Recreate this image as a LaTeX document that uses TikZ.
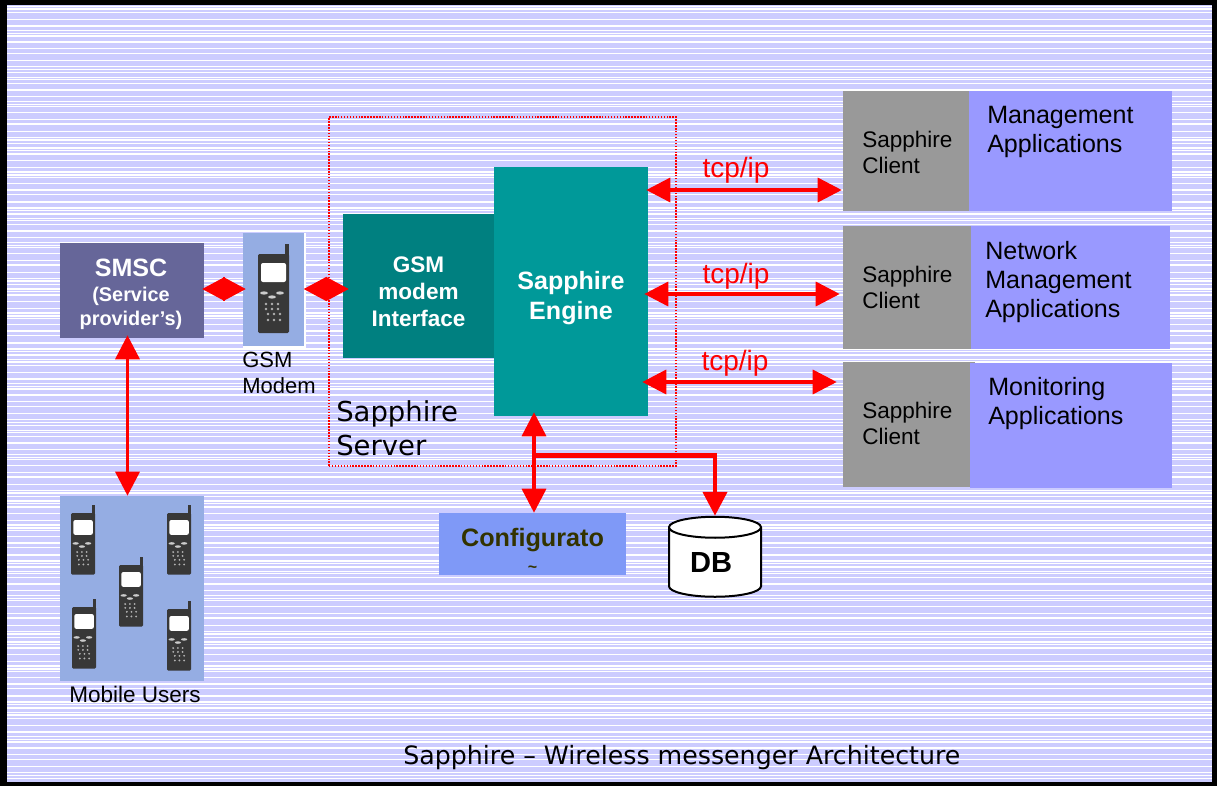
\documentclass[tikz,border=0pt]{standalone}
\usepackage{fontspec}
\usetikzlibrary{arrows.meta, shapes.geometric}
\setmainfont{Liberation Sans}
\newfontfamily\verdanafont{DejaVu Sans}

\definecolor{backblue}{HTML}{CCCCFF}
\definecolor{smscblue}{HTML}{666699}
\definecolor{phoneblue}{HTML}{95ADE3}
\definecolor{modemteal}{HTML}{008080}
\definecolor{engineteal}{HTML}{009999}
\definecolor{clientgray}{HTML}{999999}
\definecolor{appblue}{HTML}{9999FF}
\definecolor{configblue}{HTML}{7F99F7}
\definecolor{configtext}{HTML}{333300}

\tikzset{
    box/.style 2 args={inner sep=0pt, minimum width=#1*0.75pt, minimum height=#2*0.75pt},
    txt/.style 2 args={inner sep=0pt, align=left, anchor=west, font=\fontsize{#1}{#2}\selectfont},
    serif/.style 2 args={inner sep=0pt, align=left, anchor=west, font=\verdanafont\fontsize{#1}{#2}\selectfont},
    boldtxt/.style 2 args={inner sep=0pt, align=center, text=white, font=\fontsize{#1}{#2}\selectfont\bfseries},
    tcplabel/.style={text=red, font=\fontsize{21}{24}\selectfont},
    redarrow/.style={draw=red, line width=2.6pt,
        {Triangle[width=18pt,length=18pt]}-{Triangle[width=18pt,length=18pt]}},
    diamondarrow/.style={draw=red, line width=1pt,
        {Triangle[width=18pt,length=17pt]}-{Triangle[width=18pt,length=17pt]}},
    phone/.pic={
        \fill[black!78] (27,-10) rectangle (31,2);
        \fill[black!78, rounded corners=1pt] (0,0) rectangle (31,79);
        \fill[white, rounded corners=1.5pt] (3,9) rectangle (28,28);
        \foreach \kx/\ky in {6/39, 14/43, 22/39}
            \fill[black!20] (\kx,\ky) ellipse (4 and 1.6);
        \foreach \ky/\kshift in {50/0, 55/0, 60/2, 66/2}
            \foreach \kx in {8,14,20}
                \fill[black!30] (\kx+\kshift,\ky) circle (1.3);
    }
}

\begin{document}
\begin{tikzpicture}[x=0.75pt, y=-0.75pt]
        \useasboundingbox (0,0) rectangle (1217,786);

        % Frame and striped background
        \fill[black] (0,0) rectangle (1217,786);
        \fill[backblue] (7,5) rectangle (1212,782);
        \begin{scope}
            \clip (7,5) rectangle (1212,782);
            \foreach \k in {0,...,10}
                \foreach \o in {0,2.3,6,12.6,19.3,24,27,29.3,35.3,42,46.6,54,60,62.6,66}
                    \draw[white, line width=1pt] (7,6.7+\k*70.6+\o) -- (1212,6.7+\k*70.6+\o);
        \end{scope}

        % Sapphire server outline
        \node (server) at (502.5,291.5) [box={347}{349}, draw=red, line width=0.8pt, dash pattern=on 1.1pt off 1.1pt] {};
        \node (servertext) at (336,428) [serif={20.6}{25.5}] {Sapphire\\Server};

        % SMSC and mobile users
        \node (smsc) at (132,290.5) [box={144}{95}, fill=smscblue] {};
        \node (smsctext) at (131,268) [boldtxt={18.8}{20}] {SMSC};
        \node (smscsub) at (131,308.5) [boldtxt={14.9}{18}] {(Service\\provider’s)};
        \node (mobile) at (132,588.5) [box={144}{185}, fill=phoneblue] {};
        \pic[scale=0.78] at (71,513) {phone};
        \pic[scale=0.78] at (167,513) {phone};
        \pic[scale=0.78] at (119,565) {phone};
        \pic[scale=0.78] at (72,607) {phone};
        \pic[scale=0.78] at (167,609) {phone};
        \node (mobiletext) at (69,694) [txt={16.9}{19.5}] {Mobile Users};

        % GSM modem
        \fill[white] (243,233) rectangle (305.5,347.5);
        \node (modem) at (273.5,289.5) [box={61}{113}, fill=phoneblue] {};
        \pic at (258,254) {phone};
        \node (modemtext) at (242,373) [txt={16.5}{19.5}] {GSM\\Modem};

        % Server boxes
        \node (gsmif) at (418.5,286) [box={151}{144}, fill=modemteal] {};
        \node (gsmiftext) at (418.5,292) [boldtxt={16.9}{20.2}] {GSM\\modem\\Interface};
        \node (engine) at (571,291.5) [box={154}{249}, fill=engineteal] {};
        \node (enginetext) at (571,298) [boldtxt={18.8}{22.5}] {Sapphire\\Engine};

        % Clients and applications
        \node (clienta) at (906,151) [box={126}{120}, fill=clientgray] {};
        \node (appa) at (1070.5,151) [box={203}{120}, fill=appblue] {};
        \node (clientb) at (907,287.5) [box={128}{123}, fill=clientgray] {};
        \node (appb) at (1070.5,287.5) [box={199}{123}, fill=appblue] {};
        \node (clientc) at (909,424.5) [box={132}{125}, fill=clientgray] {};
        \node (appc) at (1071,425.5) [box={202}{125}, fill=appblue] {};
        \node (clientatext) at (862,152.5) [txt={16.9}{19.5}] {Sapphire\\Client};
        \node (clientbtext) at (862,287.5) [txt={16.9}{19.5}] {Sapphire\\Client};
        \node (clientctext) at (862,423.5) [txt={16.9}{19.5}] {Sapphire\\Client};
        \node (appatext) at (987,132) [txt={18.8}{21.75}] {Management\\Applications};
        \node (appbtext) at (985,282) [txt={18.8}{21.75}] {Network\\Management\\Applications};
        \node (appctext) at (988,404) [txt={18.8}{21.75}] {Monitoring\\Applications};

        % Configurator and database
        \node (config) at (532.5,544) [box={187}{62}, fill=configblue] {};
        \node (configlabel) at (532.5,550.5) [boldtxt={18.9}{19}, text=configtext] {Configurato\\{\fontsize{12}{12}\selectfont \textasciitilde}};
        \node (db) at (715,562.5) [cylinder, shape border rotate=90, aspect=0.5, draw=black, line width=1.5pt, fill=white, inner sep=0pt,
            minimum width=69pt, minimum height=60pt, font=\fontsize{21.8}{24}\selectfont\bfseries] {\phantom{DB}};
        \node (dbtext) at (711,562) [boldtxt={21.8}{24}, text=black] {DB};

        % tcp/ip links
        \coordinate (linka) at (0,190);
        \coordinate (linkb) at (0,294);
        \coordinate (linkc) at (0,382);
        \draw[redarrow, shorten <=-1.5pt] (engine.east |- linka) -- ([xshift=-0.75pt]clienta.west |- linka);
        \draw[redarrow, shorten <=-3pt] (engine.east |- linkb) -- ([xshift=-2.25pt]clientb.west |- linkb);
        \draw[redarrow, shorten <=-4.5pt] (engine.east |- linkc) -- ([xshift=-4.5pt]clientc.west |- linkc);
        \node (tcpa) at (736,170.5) [tcplabel] {tcp/ip};
        \node (tcpb) at (736,276.5) [tcplabel] {tcp/ip};
        \node (tcpc) at (735,363.5) [tcplabel] {tcp/ip};

        % Links on the left
        \coordinate (linkd) at (0,289);
        \draw[diamondarrow, shorten <=-1.5pt, shorten >=-2.25pt] (smsc.east |- linkd) -- (modem.west |- linkd);
        \draw[diamondarrow, shorten <=-0.4pt, shorten >=-4.5pt] (modem.east |- linkd) -- (gsmif.west |- linkd);
        \coordinate (linke) at (127.5,0);
        \draw[redarrow] ([yshift=2.25pt]smsc.south -| linke) -- (mobile.north -| linke);

        % Links below the engine
        \coordinate (linkf) at (534,0);
        \coordinate (branch) at (534,455.5);
        \draw[redarrow, shorten <=-3pt] (engine.south -| linkf) -- (config.north -| linkf);
        \draw[draw=red, line width=3.3pt, -{Triangle[width=18pt,length=18pt]}] (branch) -| (db.top);

        % Title
        \node (title) at (403,757.5) [serif={18.95}{21}] {Sapphire – Wireless messenger Architecture};
    \end{tikzpicture}
\end{document}
